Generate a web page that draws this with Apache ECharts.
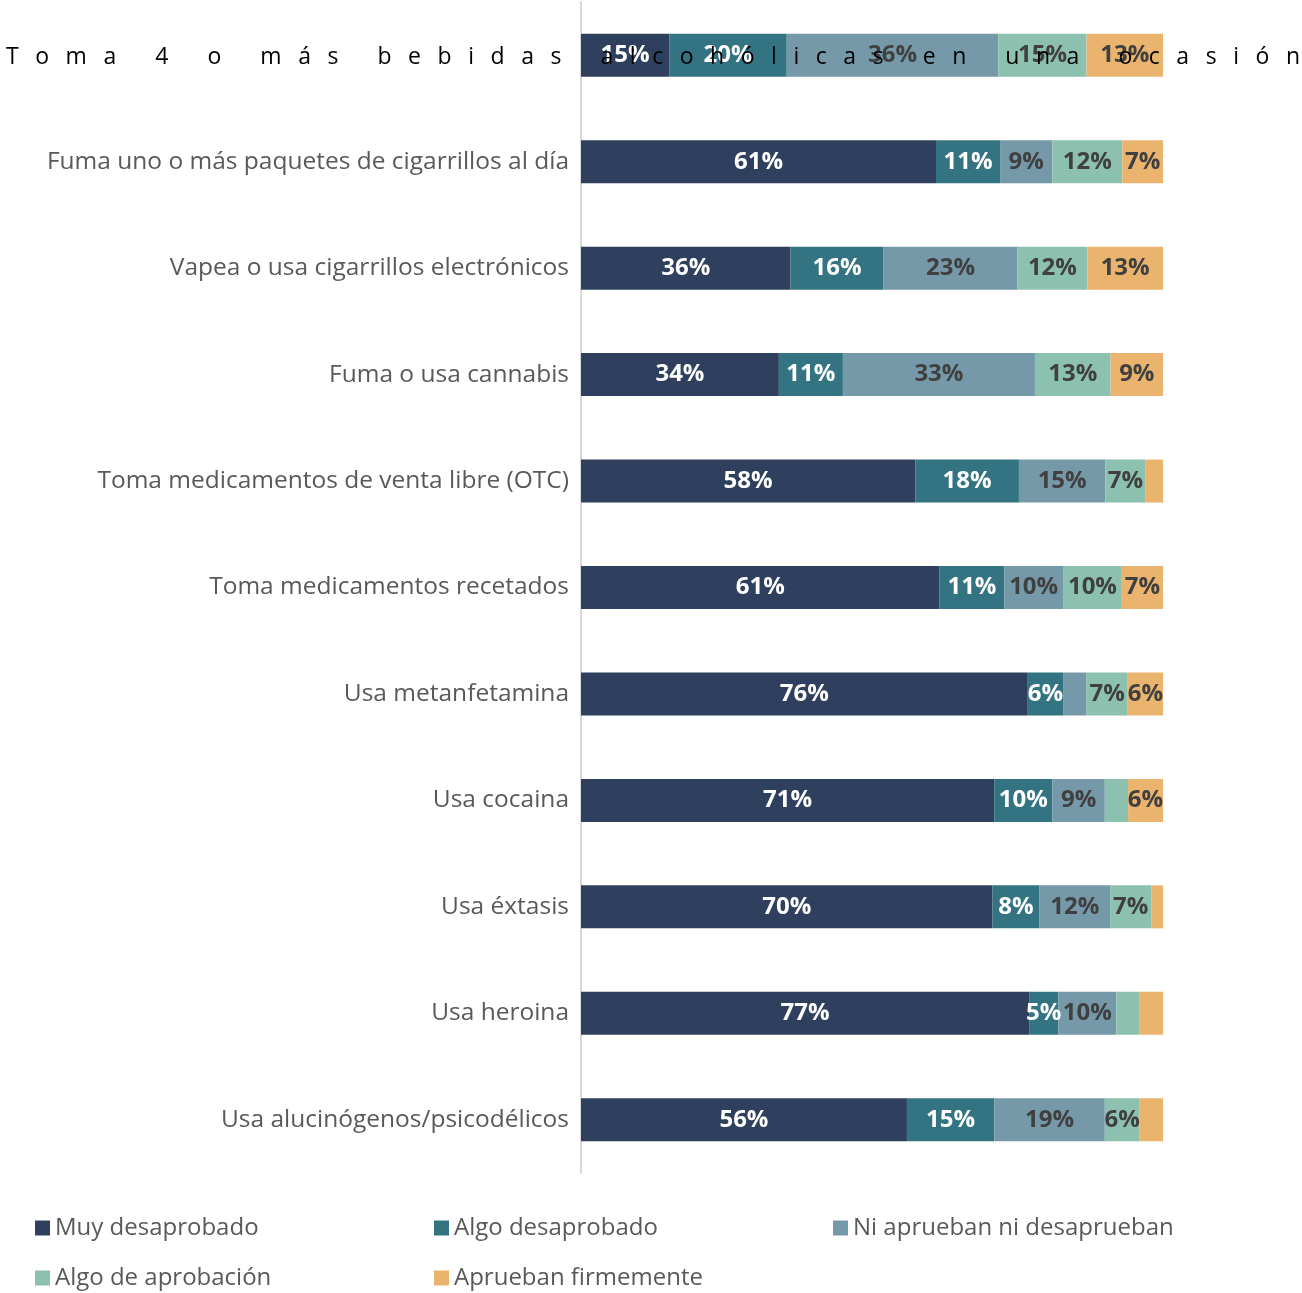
<!DOCTYPE html>
<html><head><meta charset="utf-8">
<script src="https://cdn.jsdelivr.net/npm/echarts@6/dist/echarts.min.js"></script>
<style>html,body{margin:0;padding:0;background:#fff}#c{width:1302px;height:1293px}</style>
</head><body><div id="c"></div>
<script>
const categories = [
  'Toma 4 o más bebidas alcohólicas en una ocasión',
  'Fuma uno o más paquetes de cigarrillos al día',
  'Vapea o usa cigarrillos electrónicos',
  'Fuma o usa cannabis',
  'Toma medicamentos de venta libre (OTC)',
  'Toma medicamentos recetados',
  'Usa metanfetamina',
  'Usa cocaina',
  'Usa éxtasis',
  'Usa heroina',
  'Usa alucinógenos/psicodélicos'
];
const seriesNames = ['Muy desaprobado','Algo desaprobado','Ni aprueban ni desaprueban','Algo de aprobación','Aprueban firmemente'];
const muyDesaprobado   = [15, 61, 36, 34, 58, 61, 76, 71, 70, 77, 56];
const algoDesaprobado  = [20, 11, 16, 11, 18, 11,  6, 10,  8,  5, 15];
const niAprueban       = [36,  9, 23, 33, 15, 10,  4,  9, 12, 10, 19];
const algoAprobacion   = [15, 12, 12, 13,  7, 10,  7,  4,  7,  4,  6];
const apruebanFirme    = [13,  7, 13,  9,  3,  7,  6,  6,  2,  4,  4];

const colors = ['#2F405E','#347482','#7699A9','#8CC1AF','#EAB46E'];
const labelColors = ['#ffffff','#ffffff','#404040','#404040','#404040'];
const allSeries = [muyDesaprobado, algoDesaprobado, niAprueban, algoAprobacion, apruebanFirme];
const rowTotals = categories.map((c,i)=>allSeries.reduce((s,a)=>s+a[i],0));

const FONT = 'Open Sans';
const chart = echarts.init(document.getElementById('c'));
const option = {
  animation:false,
  color: colors,
  grid:{left:581,right:139,top:2,bottom:120,containLabel:false},
  xAxis:{type:'value',min:0,max:100,show:false},
  yAxis:{type:'category',inverse:true,data:categories,
    axisLine:{show:true,lineStyle:{color:'#D9D9D9',width:2}},
    axisTick:{show:false},
    axisLabel:{fontFamily:FONT,fontSize:24.5,color:'#595959',margin:12,
      padding:[0,0,6,0],
      formatter:(v,i)=> i===0 ? '' : v}
  },
  legend:{left:30,top:1203,width:1260,itemWidth:15,itemHeight:15,itemGap:10,
    icon:'rect',
    textStyle:{fontFamily:FONT,fontSize:24,color:'#595959',width:369,lineHeight:40},
    data:seriesNames},
  series: allSeries.map((arr,k)=>({
    name:seriesNames[k],type:'bar',stack:'t',barWidth:43,
    itemStyle:{color:colors[k]},
    data: arr.map((v,i)=>({value: v/rowTotals[i]*100, raw:v,
      label:{show: v>=5}})),
    label:{position:'inside',fontFamily:FONT,fontWeight:'bold',fontSize:24,
      color:labelColors[k],
      formatter:p=>p.data.raw+'%'}
  }))
};
chart.setOption(option);

// distributed first category label (spread across the full width, drawn over the bar)
const y0 = chart.convertToPixel({yAxisIndex:0}, categories[0]) + 2;
const cv = document.createElement('canvas').getContext('2d');
const fs = 23;
cv.font = fs+'px "'+FONT+'"';
const chars = Array.from(categories[0]);
const widths = chars.map(ch=>cv.measureText(ch).width);
const startX = 6, endX = 1300;
const total = widths.reduce((a,b)=>a+b,0);
const extra = (endX-startX-total)/(chars.length-1);
let x = startX; const kids=[];
chars.forEach((ch,i)=>{ if(ch!==' ') kids.push({type:'text',x:x,y:y0,z:200,zlevel:1,style:{text:ch,font:fs+'px "'+FONT+'"',fill:'#000',textVerticalAlign:'middle'}}); x+=widths[i]+extra; });
chart.setOption({graphic:kids});
</script></body></html>
